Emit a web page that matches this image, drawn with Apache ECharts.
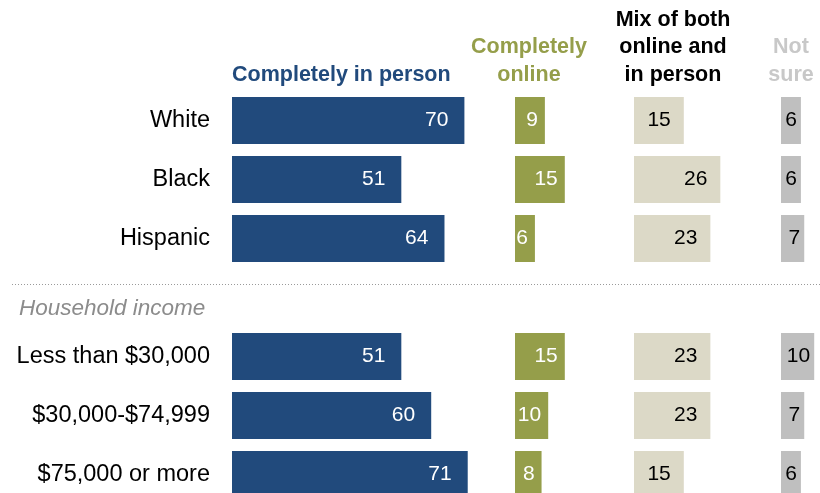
<!DOCTYPE html>
<html>
<head>
<meta charset="utf-8">
<script src="https://cdn.jsdelivr.net/npm/echarts@6/dist/echarts.min.js"></script>
<style>
  html, body { margin: 0; padding: 0; background: #fff; }
  #chart { width: 820px; height: 493px; }
</style>
</head>
<body>
<div id="chart"></div>
<script>
// rows (blank row is the gap before the income group)
const categories = ['White', 'Black', 'Hispanic', '', 'Less than $30,000', '$30,000-$74,999', '$75,000 or more'];
const inPerson = [70, 51, 64, null, 51, 60, 71];
const online = [9, 15, 6, null, 15, 10, 8];
const mixBoth = [15, 26, 23, null, 23, 23, 15];
const notSure = [6, 6, 7, null, 10, 7, 6];
const groupLabel = 'Household income';

const font = 'Liberation Sans, Arial, sans-serif';
const blue = '#214a7c';
const olive = '#959e4a';
const beige = '#dcd9c7';
const gray = '#bfbfbf';
const pxPerUnit = 3.32;

// one column per answer
let columns = [
  { data: inPerson, left: 232, max: 100, color: blue, text: '#fff', dist: 16,
    head: ['Completely in person'], headX: 232, align: 'left', headColor: blue },
  { data: online, left: 515, max: 50, color: olive, text: '#fff', dist: 7,
    head: ['Completely', 'online'], headX: 529, align: 'center', headColor: olive },
  { data: mixBoth, left: 634, max: 50, color: beige, text: '#000', dist: 13,
    head: ['Mix of both', 'online and', 'in person'], headX: 673, align: 'center', headColor: '#000' },
  { data: notSure, left: 781, max: 10, color: gray, text: '#000', dist: 4,
    head: ['Not', 'sure'], headX: 791, align: 'center', headColor: '#c8c8c8' }
];

let grids = [], xAxes = [], yAxes = [], series = [], graphics = [];
let lineMid = [20, 47.5, 75];

columns.forEach((col, i) => {
  grids.push({
    left: col.left, top: 91, width: col.max * pxPerUnit, height: 413,
    outerBoundsMode: 'none'
  });
  xAxes.push({ gridIndex: i, type: 'value', min: 0, max: col.max, show: false });
  yAxes.push({
    gridIndex: i,
    type: 'category',
    inverse: true,
    data: categories,
    show: i === 0,
    axisLine: { show: false },
    axisTick: { show: false },
    axisLabel: { margin: 22, fontSize: 23.5, color: '#000', fontFamily: font }
  });
  series.push({
    type: 'bar',
    xAxisIndex: i,
    yAxisIndex: i,
    barWidth: 47,
    data: col.data,
    itemStyle: { color: col.color },
    label: {
      show: true,
      position: 'insideRight',
      distance: col.dist,
      color: col.text,
      fontSize: 21,
      fontFamily: font
    }
  });
  let offset = 3 - col.head.length;
  col.head.forEach((line, k) => {
    graphics.push({
      type: 'text',
      style: {
        text: line,
        x: col.headX,
        y: lineMid[k + offset],
        textAlign: col.align,
        textVerticalAlign: 'middle',
        font: 'bold 21.5px ' + font,
        fill: col.headColor
      }
    });
  });
});

graphics.push({
  type: 'line',
  shape: { x1: 12, y1: 284.5, x2: 820, y2: 284.5 },
  style: { stroke: '#9a9a9a', lineWidth: 1, lineDash: [1, 2] }
});
graphics.push({
  type: 'text',
  style: {
    text: groupLabel,
    x: 19,
    y: 308.5,
    textAlign: 'left',
    textVerticalAlign: 'middle',
    font: 'italic 22.5px ' + font,
    fill: '#8c8c8c'
  }
});

let myChart = echarts.init(document.getElementById('chart'));
myChart.setOption({
  animation: false,
  grid: grids,
  xAxis: xAxes,
  yAxis: yAxes,
  series: series,
  graphic: graphics
});
</script>
</body>
</html>
